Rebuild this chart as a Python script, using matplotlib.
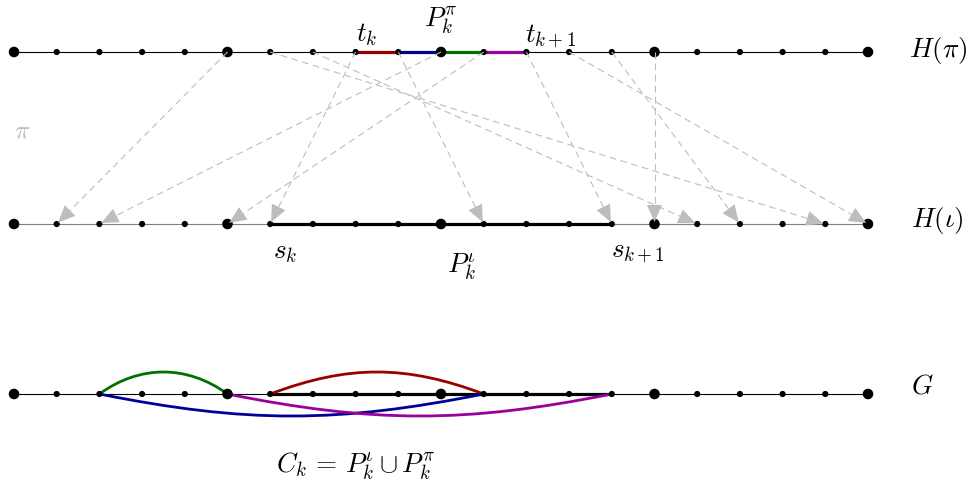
import numpy as np
import matplotlib.pyplot as plt
from matplotlib.path import Path
from matplotlib.patches import PathPatch, Polygon

plt.rcParams['mathtext.fontset'] = 'cm'

# 21 vertices on each row, every fifth one drawn bigger
n_nodes = 21
big_nodes = [0, 5, 10, 15, 20]

# permutation arrows: top-row vertex -> bottom-row vertex
pi_src = [5, 6, 7, 8, 9, 10, 11, 12, 13, 14, 15]
pi_dst = [1, 19, 16, 6, 11, 2, 5, 14, 20, 17, 15]

# coloured pieces of P_k^pi on H(pi)
seg_start = [8, 9, 10, 11]
seg_end = [9, 10, 11, 12]
seg_colors = ['#990000', '#000099', '#007000', '#990099']

# thick path P_k^iota
path_start, path_end = 6, 14

# arcs in G: start, end, colour, side (+1 above, -1 below)
arc_start = [2, 6, 2, 5]
arc_end = [5, 11, 11, 14]
arc_colors = ['#007000', '#990000', '#000099', '#990099']
arc_side = [1, 1, -1, -1]

x0, dx = 14, 42.7
y_top, y_mid, y_bot = 52, 224, 394
xs = x0 + dx * np.arange(n_nodes)


def draw_row(ax, y, color):
    ax.plot([xs[0], xs[-1]], [y, y], color=color, lw=0.8, zorder=1)
    sizes = np.array([58 if i in big_nodes else 20 for i in range(n_nodes)])
    ax.scatter(xs, np.full(n_nodes, y), s=sizes, color='black', zorder=5, lw=0)


fig = plt.figure(figsize=(9.74, 4.93), dpi=100)
ax = fig.add_axes([0, 0, 1, 1])
ax.set_xlim(0, 974)
ax.set_ylim(493, 0)
ax.axis('off')

draw_row(ax, y_top, 'black')
draw_row(ax, y_mid, '#808080')
draw_row(ax, y_bot, 'black')

# coloured pieces on top row
for a, b, c in zip(seg_start, seg_end, seg_colors):
    ax.plot([xs[a], xs[b]], [y_top, y_top], color=c, lw=2.3, zorder=3,
            solid_capstyle='butt')

# thick path on middle and bottom rows
for y in (y_mid, y_bot):
    ax.plot([xs[path_start], xs[path_end]], [y, y], color='black', lw=2.3,
            zorder=3, solid_capstyle='butt')

# dashed permutation arrows
grey = '#bdbdbd'
head_len, head_half = 17, 7.5
for s, d in zip(pi_src, pi_dst):
    p0 = np.array([xs[s], y_top])
    p1 = np.array([xs[d], y_mid])
    u = (p1 - p0) / np.linalg.norm(p1 - p0)
    tip = p1 - u * 2
    base = tip - u * head_len
    nrm = np.array([-u[1], u[0]])
    ax.plot([p0[0], base[0]], [p0[1], base[1]], color=grey, lw=0.8,
            dashes=(6, 4), zorder=6)
    ax.add_patch(Polygon([tip, base + nrm * head_half, base - nrm * head_half],
                         closed=True, color=grey, lw=0, zorder=7))

# arcs in G, bent like tikz "bend" (control points at 0.39 of the chord)
for a, b, c, side in zip(arc_start, arc_end, arc_colors, arc_side):
    xa, xb = xs[a], xs[b]
    d = xb - xa
    hc = 22 / 0.75
    sin_t = min(hc / (0.39 * d), 0.95)
    k = 0.39 * d * np.sqrt(1 - sin_t ** 2)
    verts = [(xa, y_bot), (xa + k, y_bot - side * hc),
             (xb - k, y_bot - side * hc), (xb, y_bot)]
    p = Path(verts, [Path.MOVETO, Path.CURVE4, Path.CURVE4, Path.CURVE4])
    ax.add_patch(PathPatch(p, fill=False, edgecolor=c, lw=2.0, zorder=4))

fs = 19.5
ax.text(367, 35, r'$t_k$', fontsize=fs, ha='center', va='center')
ax.text(551, 36, r'$t_{k+1}$', fontsize=fs, ha='center', va='center')
ax.text(441, 20, r'$P_k^{\pi}$', fontsize=fs, ha='center', va='center')
ax.text(285, 252, r'$s_k$', fontsize=fs, ha='center', va='center')
ax.text(638, 252, r'$s_{k+1}$', fontsize=fs, ha='center', va='center')
ax.text(462, 267, r'$P_k^{\iota}$', fontsize=fs, ha='center', va='center')
ax.text(909, 50, r'$H(\pi)$', fontsize=fs, ha='left', va='center')
ax.text(911, 220, r'$H(\iota)$', fontsize=fs, ha='left', va='center')
ax.text(911, 386, r'$G$', fontsize=fs, ha='left', va='center')
ax.text(356, 466, r'$C_k\,=\,P_k^{\iota} \cup P_k^{\pi}$', fontsize=fs,
        ha='center', va='center')
ax.text(22, 131, r'$\pi$', fontsize=18, color=grey, ha='center', va='center')

fig.savefig('out.png', dpi=100)
